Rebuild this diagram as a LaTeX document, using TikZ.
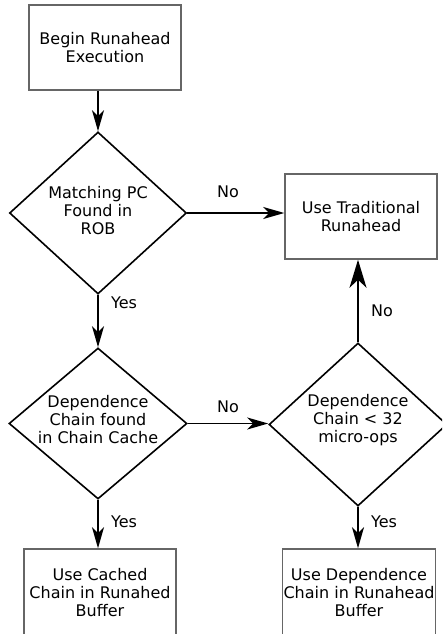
\documentclass[tikz,border=0pt]{standalone}
\usepackage{fontspec}
\setmainfont{DejaVu Sans}
\usetikzlibrary{shapes.geometric, arrows.meta}

\tikzset{
  box/.style={draw=black!60, line width=1.5pt, minimum width=152pt, minimum height=85pt, inner sep=1pt, align=center},
  decision/.style={diamond, draw, line width=1.6pt, inner sep=0pt},
  txt/.style={align=center, inner sep=0pt},
  flow/.style={line width=1.6pt, -{Stealth[length=21pt, width=12pt, inset=6pt]}},
  bigflow/.style={line width=1.6pt, -{Stealth[length=28pt, width=17pt, inset=8pt]}},
}

\begin{document}
\begin{tikzpicture}[x=1pt, y=-1pt, font=\fontsize{16}{18}\selectfont]
  \path[use as bounding box] (0,0) rectangle (442,634);
  \clip (0,0) rectangle (442,634);

  % boxes and decisions
  \node[box] (begin) at (105,47.5) {Begin Runahead\\Execution};
  \node[decision, minimum width=177pt, minimum height=162pt,
        label={[txt, yshift=2pt]center:Matching PC\\Found in\\ROB}] (match) at (98,213) {};
  \node[box] (trad) at (361,216.5) {Use Traditional\\Runahead};
  \node[decision, minimum width=178pt, minimum height=151pt,
        label={[txt, yshift=4pt]center:Dependence\\Chain found\\in Chain Cache}] (cache) at (98,423.5) {};
  \node[decision, minimum width=178pt, minimum height=163pt,
        label={[txt, yshift=4pt]center:Dependence\\Chain < 32\\micro-ops}] (size) at (358,424.5) {};
  \node[box, minimum height=88pt] (cached) at (100,593) {Use Cached\\Chain in Runahed\\Buffer};
  \node[box, minimum height=88pt] (dep) at (359,593) {Use Dependence\\Chain in Runahead\\Buffer};

  % connectors
  \draw[flow] (begin.south -| match.north) -- (match.north);
  \draw[flow] (match.east) -- node[pos=0.42, above=11.5pt] {No} (match.east -| trad.west);
  \draw[flow] (match.south) -- node[pos=0.16, right=9pt] {Yes} (cache.north);
  \draw[flow] (cache.east) -- node[midway, above=7pt] {No} (cache.east -| size.west);
  \draw[bigflow] (size.north) -- node[pos=0.38, right=9pt] {No} (size.north |- trad.south);
  \draw[flow] (cache.south) -- node[pos=0.46, right=9pt] {Yes} (cache.south |- cached.north);
  \draw[flow] (size.south) -- node[pos=0.37, right=9pt] {Yes} (size.south |- dep.north);
\end{tikzpicture}
\end{document}
